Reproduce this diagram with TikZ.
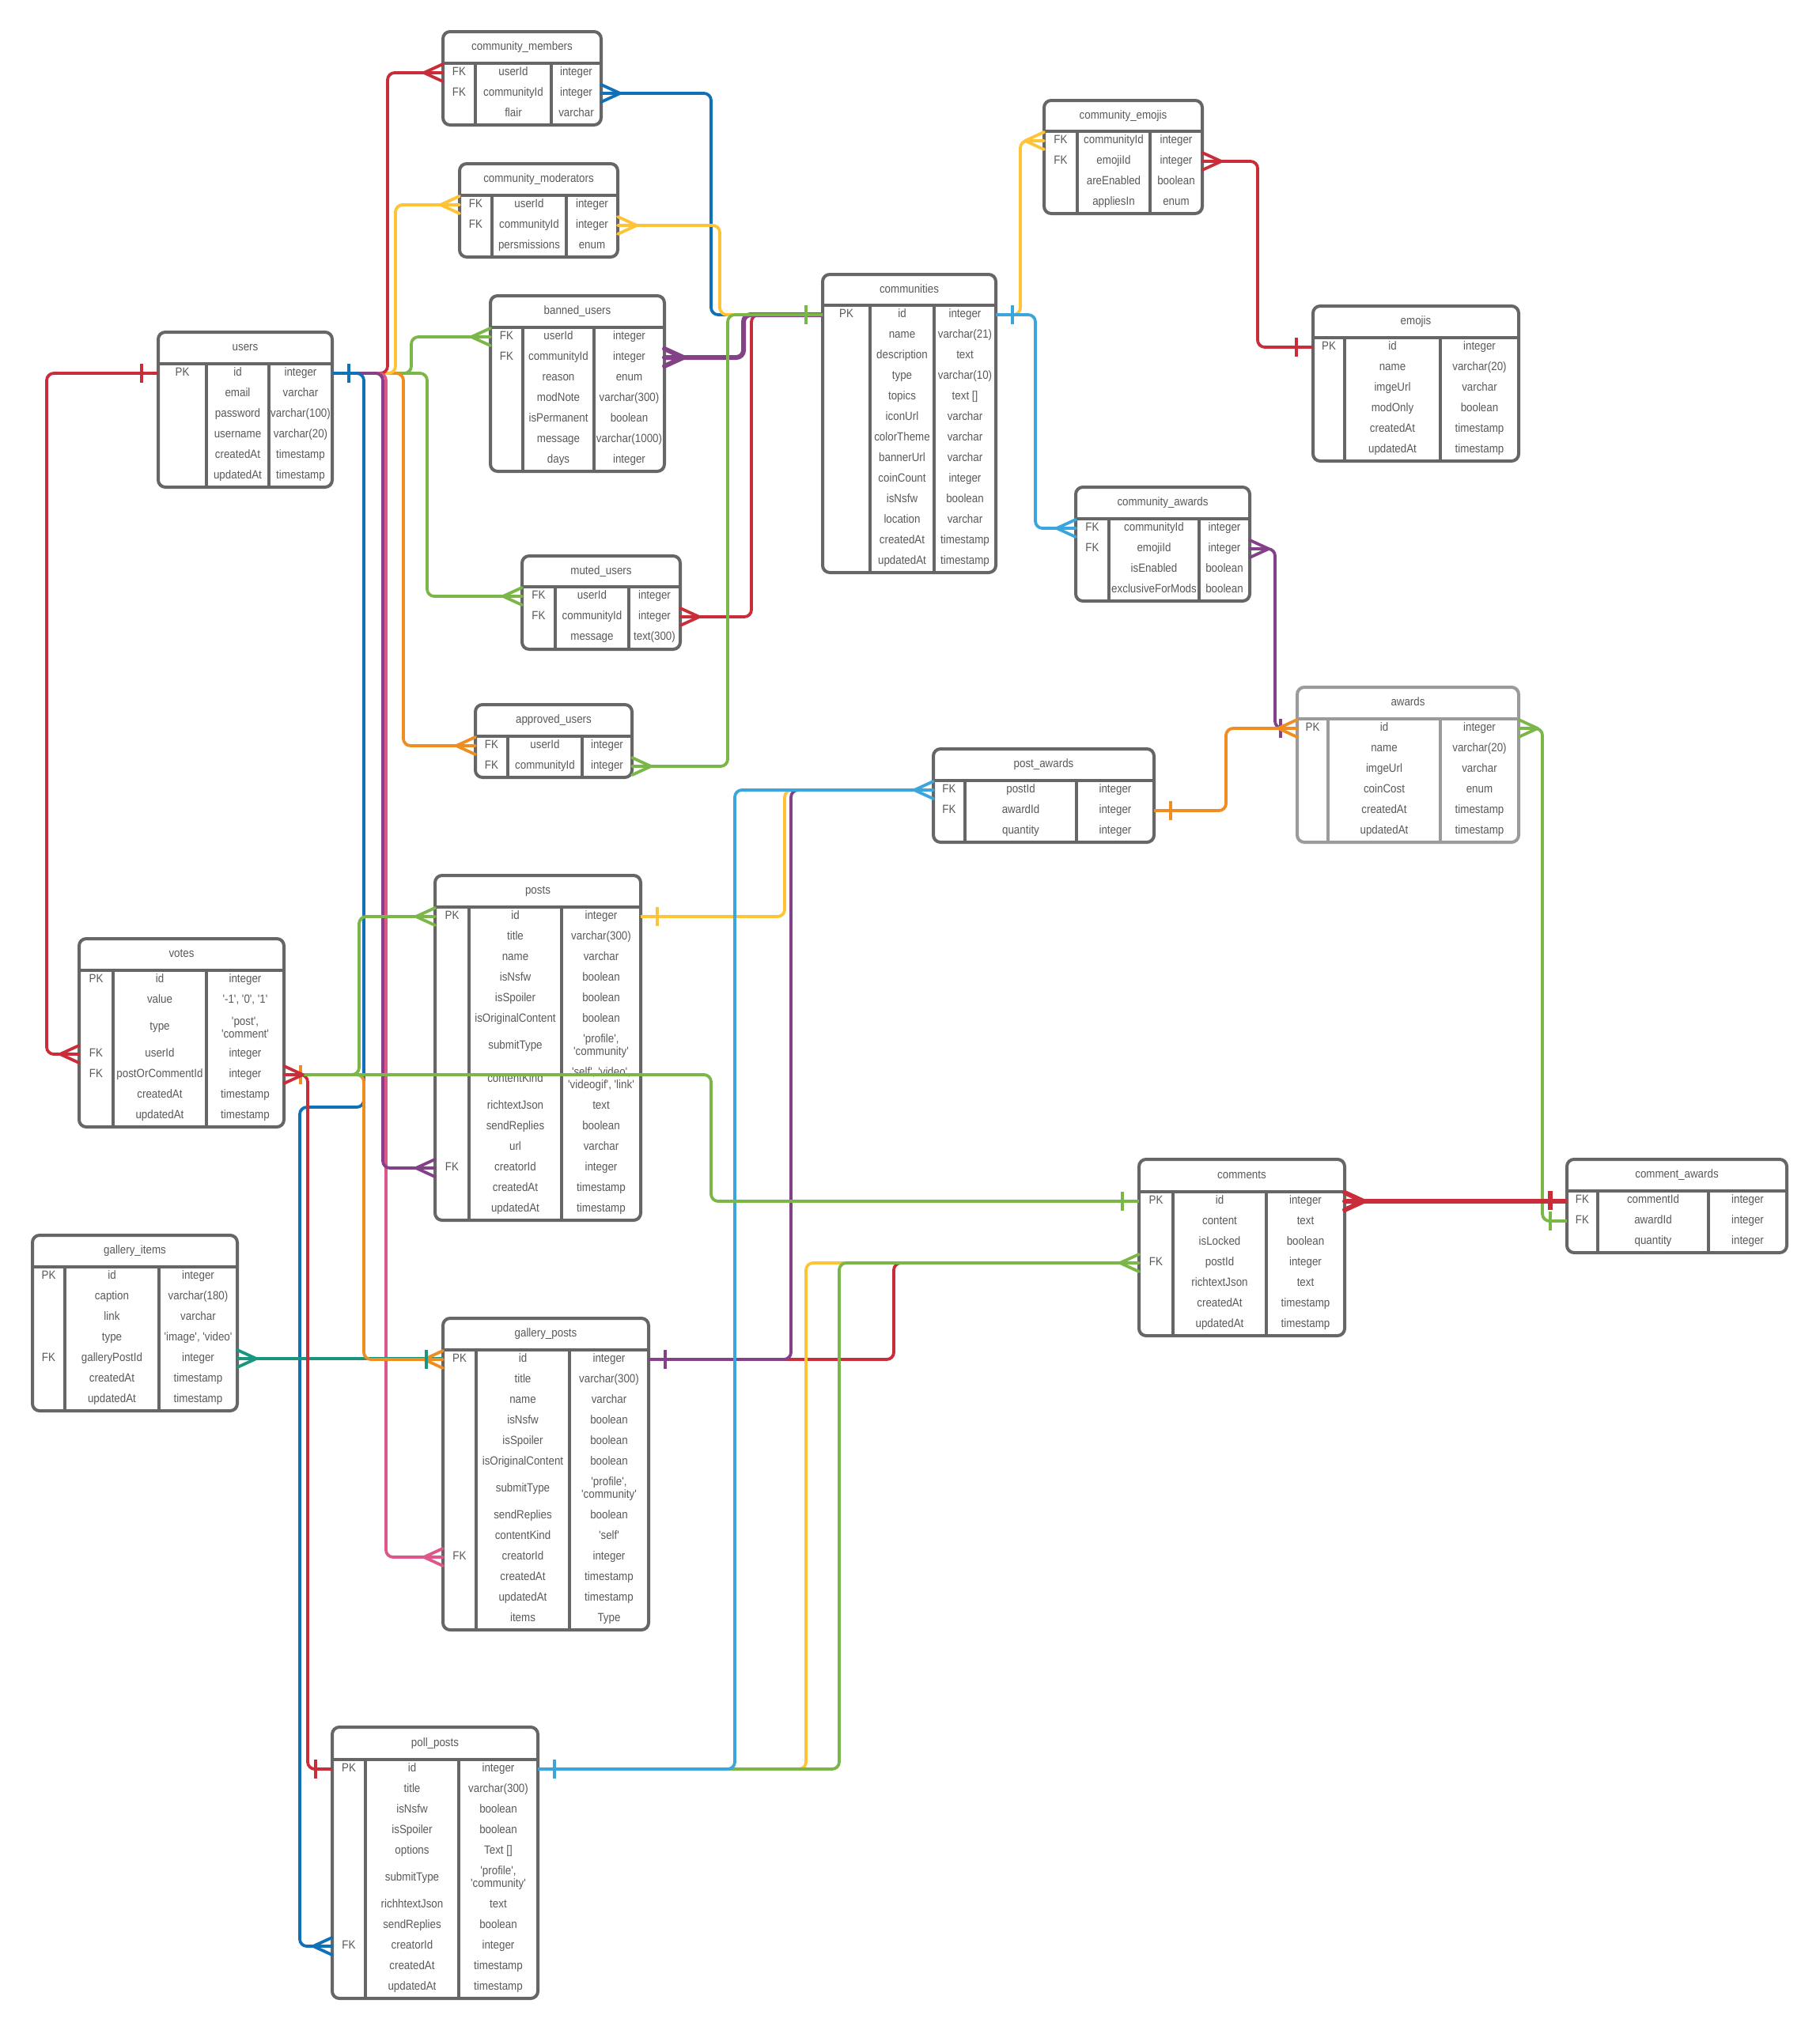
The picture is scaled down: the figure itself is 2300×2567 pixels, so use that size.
\documentclass[tikz,border=0pt]{standalone}
\usepackage{fontspec}
\setmainfont{Liberation Sans}[FakeStretch=0.89,Ligatures=TeXOff]
\definecolor{cred}{RGB}{201,45,57}
\definecolor{cblue}{RGB}{16,113,184}
\definecolor{clblue}{RGB}{58,166,221}
\definecolor{cyellow}{RGB}{255,195,56}
\definecolor{cgreen}{RGB}{122,182,72}
\definecolor{cpurple}{RGB}{131,65,135}
\definecolor{corange}{RGB}{239,141,34}
\definecolor{cpink}{RGB}{224,86,139}
\definecolor{cteal}{RGB}{25,150,125}
\definecolor{tbgray}{RGB}{102,102,102}
\definecolor{tblight}{RGB}{155,155,155}
\definecolor{txtgray}{RGB}{89,89,89}
\newcommand{\ercol}{tbgray}
\newcommand{\erbox}[9]{%
  \gdef\erN{#1}\gdef\erL{#2}\gdef\erR{#3}\gdef\erA{#7}\gdef\erB{#8}%
  \draw[tbBorder] (#2,#4) rectangle (#3,#6);
  \draw[tbHead] (#2,#5) -- (#3,#5);
  \draw[tbCol] (#7,#5) -- (#7,#6);
  \draw[tbCol] (#8,#5) -- (#8,#6);
  \node[ttl] (#1) at ({(#2+#3)/2},{(#4+#5)/2}) {#9};
}
\newcommand{\errow}[5]{%
  \node[cell] (\erN-#1-k) at ({(\erL+\erA)/2},#2) {#3};
  \node[cell] (\erN-#1-f) at ({(\erA+\erB)/2},#2) {#4};
  \node[cell] (\erN-#1-t) at ({(\erB+\erR)/2},#2) {#5};
  \coordinate (\erN-#1-l) at (\erL,#2);
  \coordinate (\erN-#1-r) at (\erR,#2);
}
\newcommand{\errowm}[5]{%
  \node[cell] (\erN-#1-k) at ({(\erL+\erA)/2},#2) {#3};
  \node[cell] (\erN-#1-f) at ({(\erA+\erB)/2},#2) {#4};
  \node[cellm] (\erN-#1-t) at ({(\erB+\erR)/2},#2) {#5};
  \coordinate (\erN-#1-l) at (\erL,#2);
  \coordinate (\erN-#1-r) at (\erR,#2);
}
\tikzset{
  tbBorder/.style={draw=\ercol, line width=4pt, rounded corners=9pt},
  tbHead/.style={draw=\ercol, line width=4pt},
  tbCol/.style={draw=\ercol, line width=3.5pt},
  ttl/.style={font=\fontsize{15}{16}\selectfont, text=txtgray, inner sep=0pt, text height=10.5pt, text depth=3pt},
  cell/.style={font=\fontsize{15}{16}\selectfont, text=txtgray, inner sep=0pt, text height=10.5pt, text depth=3pt},
  cellm/.style={font=\fontsize{15}{16}\selectfont, text=txtgray, inner sep=0pt, align=center},
  conn/.style={line width=3.8pt, rounded corners=9pt},
  thickconn/.style={line width=6pt},
  mk/.style={line width=3.8pt},
  mkthick/.style={line width=6pt},
  crowL/.pic={\draw[line cap=round] (-24,0) -- (0,-11) (-24,0) -- (0,0) (-24,0) -- (0,11);},
  crowR/.pic={\draw[line cap=round] (24,0) -- (0,-11) (24,0) -- (0,0) (24,0) -- (0,11);},
  barL/.pic={\draw (-21,-12) -- (-21,12);},
  barR/.pic={\draw (21,-12) -- (21,12);}
}
\begin{document}
\begin{tikzpicture}[x=1pt,y=-1pt]
\fill[white] (0,0) rectangle (2300,2567);
\useasboundingbox (0,0) rectangle (2300,2567);

% users
\erbox{users}{200}{420}{420}{460}{616}{261}{340}{users}
\errow{id}{472}{PK}{id}{integer}
\errow{email}{498}{}{email}{varchar}
\errow{password}{524}{}{password}{varchar(100)}
\errow{username}{550}{}{username}{varchar(20)}
\errow{createdAt}{576}{}{createdAt}{timestamp}
\errow{updatedAt}{602}{}{updatedAt}{timestamp}

% community_members
\erbox{cmem}{560}{760}{40}{80}{158}{601}{697}{community\_members}
\errow{userId}{92}{FK}{userId}{integer}
\errow{communityId}{118}{FK}{communityId}{integer}
\errow{flair}{144}{}{flair}{varchar}

% community_moderators
\erbox{cmod}{581}{781}{207}{247}{325}{622}{716}{community\_moderators}
\errow{userId}{259}{FK}{userId}{integer}
\errow{communityId}{285}{FK}{communityId}{integer}
\errow{perm}{311}{}{persmissions}{enum}

% banned_users
\erbox{banned}{620}{840}{374}{414}{596}{661}{751}{banned\_users}
\errow{userId}{426}{FK}{userId}{integer}
\errow{communityId}{452}{FK}{communityId}{integer}
\errow{reason}{478}{}{reason}{enum}
\errow{modNote}{504}{}{modNote}{varchar(300)}
\errow{isPermanent}{530}{}{isPermanent}{boolean}
\errow{message}{556}{}{message}{varchar(1000)}
\errow{days}{582}{}{days}{integer}

% communities
\erbox{comm}{1040}{1259}{347}{386}{724}{1100}{1181}{communities}
\errow{id}{398}{PK}{id}{integer}
\errow{name}{424}{}{name}{varchar(21)}
\errow{description}{450}{}{description}{text}
\errow{type}{476}{}{type}{varchar(10)}
\errow{topics}{502}{}{topics}{text []}
\errow{iconUrl}{528}{}{iconUrl}{varchar}
\errow{colorTheme}{554}{}{colorTheme}{varchar}
\errow{bannerUrl}{580}{}{bannerUrl}{varchar}
\errow{coinCount}{606}{}{coinCount}{integer}
\errow{isNsfw}{632}{}{isNsfw}{boolean}
\errow{location}{658}{}{location}{varchar}
\errow{createdAt}{684}{}{createdAt}{timestamp}
\errow{updatedAt}{710}{}{updatedAt}{timestamp}

% community_emojis
\erbox{cemo}{1320}{1520}{127}{166}{270}{1362}{1454}{community\_emojis}
\errow{communityId}{178}{FK}{communityId}{integer}
\errow{emojiId}{204}{FK}{emojiId}{integer}
\errow{areEnabled}{230}{}{areEnabled}{boolean}
\errow{appliesIn}{256}{}{appliesIn}{enum}

% emojis
\erbox{emojis}{1660}{1920}{387}{427}{583}{1700}{1821}{emojis}
\errow{id}{439}{PK}{id}{integer}
\errow{name}{465}{}{name}{varchar(20)}
\errow{imgeUrl}{491}{}{imgeUrl}{varchar}
\errow{modOnly}{517}{}{modOnly}{boolean}
\errow{createdAt}{543}{}{createdAt}{timestamp}
\errow{updatedAt}{569}{}{updatedAt}{timestamp}

% community_awards
\erbox{caw}{1360}{1580}{616}{656}{760}{1402}{1516}{community\_awards}
\errow{communityId}{668}{FK}{communityId}{integer}
\errow{emojiId}{694}{FK}{emojiId}{integer}
\errow{isEnabled}{720}{}{isEnabled}{boolean}
\errow{exclusiveForMods}{746}{}{exclusiveForMods}{boolean}

% muted_users
\erbox{muted}{660}{860}{703}{742}{821}{702}{795}{muted\_users}
\errow{userId}{754}{FK}{userId}{integer}
\errow{communityId}{780}{FK}{communityId}{integer}
\errow{message}{806}{}{message}{text(300)}

% approved_users
\erbox{approved}{601}{799}{891}{931}{983}{642}{736}{approved\_users}
\errow{userId}{943}{FK}{userId}{integer}
\errow{communityId}{969}{FK}{communityId}{integer}

% post_awards
\erbox{paw}{1180}{1459}{947}{987}{1065}{1220}{1361}{post\_awards}
\errow{postId}{999}{FK}{postId}{integer}
\errow{awardId}{1025}{FK}{awardId}{integer}
\errow{quantity}{1051}{}{quantity}{integer}

% awards
\renewcommand{\ercol}{tblight}
\erbox{awards}{1640}{1920}{869}{909}{1065}{1679}{1821}{awards}
\errow{id}{921}{PK}{id}{integer}
\errow{name}{947}{}{name}{varchar(20)}
\errow{imgeUrl}{973}{}{imgeUrl}{varchar}
\errow{coinCost}{999}{}{coinCost}{enum}
\errow{createdAt}{1025}{}{createdAt}{timestamp}
\errow{updatedAt}{1051}{}{updatedAt}{timestamp}
\renewcommand{\ercol}{tbgray}

% posts
\erbox{posts}{550}{810}{1107}{1147}{1543}{593}{710}{posts}
\errow{id}{1159}{PK}{id}{integer}
\errow{title}{1185}{}{title}{varchar(300)}
\errow{name}{1211}{}{name}{varchar}
\errow{isNsfw}{1237}{}{isNsfw}{boolean}
\errow{isSpoiler}{1263}{}{isSpoiler}{boolean}
\errow{isOC}{1289}{}{isOriginalContent}{boolean}
\errowm{submitType}{1323}{}{submitType}{'profile',\\'community'}
\errowm{contentKind}{1365}{}{contentKind}{'self', 'video',\\'videogif', 'link'}
\errow{richtextJson}{1399}{}{richtextJson}{text}
\errow{sendReplies}{1425}{}{sendReplies}{boolean}
\errow{url}{1451}{}{url}{varchar}
\errow{creatorId}{1477}{FK}{creatorId}{integer}
\errow{createdAt}{1503}{}{createdAt}{timestamp}
\errow{updatedAt}{1529}{}{updatedAt}{timestamp}

% votes
\erbox{votes}{100}{359}{1187}{1227}{1425}{143}{261}{votes}
\errow{id}{1239}{PK}{id}{integer}
\errow{value}{1265}{}{value}{'-1', '0', '1'}
\errowm{type}{1299}{}{type}{'post',\\'comment'}
\errow{userId}{1333}{FK}{userId}{integer}
\errow{poc}{1359}{FK}{postOrCommentId}{integer}
\errow{createdAt}{1385}{}{createdAt}{timestamp}
\errow{updatedAt}{1411}{}{updatedAt}{timestamp}

% gallery_items
\erbox{gitems}{41}{300}{1562}{1602}{1784}{82}{201}{gallery\_items}
\errow{id}{1614}{PK}{id}{integer}
\errow{caption}{1640}{}{caption}{varchar(180)}
\errow{link}{1666}{}{link}{varchar}
\errow{type}{1692}{}{type}{'image', 'video'}
\errow{galleryPostId}{1718}{FK}{galleryPostId}{integer}
\errow{createdAt}{1744}{}{createdAt}{timestamp}
\errow{updatedAt}{1770}{}{updatedAt}{timestamp}

% gallery_posts
\erbox{gposts}{560}{820}{1667}{1707}{2061}{602}{720}{gallery\_posts}
\errow{id}{1719}{PK}{id}{integer}
\errow{title}{1745}{}{title}{varchar(300)}
\errow{name}{1771}{}{name}{varchar}
\errow{isNsfw}{1797}{}{isNsfw}{boolean}
\errow{isSpoiler}{1823}{}{isSpoiler}{boolean}
\errow{isOC}{1849}{}{isOriginalContent}{boolean}
\errowm{submitType}{1883}{}{submitType}{'profile',\\'community'}
\errow{sendReplies}{1917}{}{sendReplies}{boolean}
\errow{contentKind}{1943}{}{contentKind}{'self'}
\errow{creatorId}{1969}{FK}{creatorId}{integer}
\errow{createdAt}{1995}{}{createdAt}{timestamp}
\errow{updatedAt}{2021}{}{updatedAt}{timestamp}
\errow{items}{2047}{}{items}{Type}

% comments
\erbox{comments}{1440}{1700}{1466}{1507}{1689}{1483}{1601}{comments}
\errow{id}{1519}{PK}{id}{integer}
\errow{content}{1545}{}{content}{text}
\errow{isLocked}{1571}{}{isLocked}{boolean}
\errow{postId}{1597}{FK}{postId}{integer}
\errow{richtextJson}{1623}{}{richtextJson}{text}
\errow{createdAt}{1649}{}{createdAt}{timestamp}
\errow{updatedAt}{1675}{}{updatedAt}{timestamp}

% comment_awards
\erbox{cawd}{1981}{2259}{1466}{1506}{1584}{2020}{2160}{comment\_awards}
\errow{commentId}{1518}{FK}{commentId}{integer}
\errow{awardId}{1544}{FK}{awardId}{integer}
\errow{quantity}{1570}{}{quantity}{integer}

% poll_posts
\erbox{poll}{420}{680}{2184}{2225}{2527}{462}{580}{poll\_posts}
\errow{id}{2237}{PK}{id}{integer}
\errow{title}{2263}{}{title}{varchar(300)}
\errow{isNsfw}{2289}{}{isNsfw}{boolean}
\errow{isSpoiler}{2315}{}{isSpoiler}{boolean}
\errow{options}{2341}{}{options}{Text []}
\errowm{submitType}{2375}{}{submitType}{'profile',\\'community'}
\errow{richhtextJson}{2409}{}{richhtextJson}{text}
\errow{sendReplies}{2435}{}{sendReplies}{boolean}
\errow{creatorId}{2461}{FK}{creatorId}{integer}
\errow{createdAt}{2487}{}{createdAt}{timestamp}
\errow{updatedAt}{2513}{}{updatedAt}{timestamp}

% ---------- connectors ----------
\draw[conn, cred] (users-id-l) -- ++(-141,0) |- (votes-userId-l);
\draw[conn, cgreen] (users-id-r) -- ++(120,0) |- (muted-userId-l);
\draw[conn, cgreen] (users-id-r) -- ++(100,0) |- (banned-userId-l);
\draw[conn, corange] (users-id-r) -- ++(90,0) |- (approved-userId-l);
\draw[conn, cyellow] (users-id-r) -- ++(80,0) |- (cmod-userId-l);
\draw[conn, cred] (users-id-r) -- ++(70,0) |- (cmem-userId-l);
\draw[conn, cpink] (users-id-r) -- ++(68,0) |- (gposts-creatorId-l);
\draw[conn, cpurple] (users-id-r) -- ++(64,0) |- (posts-creatorId-l);
\draw[conn, cblue] (users-id-r) -- ++(40,0) -- ++(0,928) -- ++(-81,0) |- (poll-creatorId-l);

\draw[conn, cblue] (cmem-communityId-r) -- ++(139,0) |- (comm-id-l);
\draw[conn, cyellow] (cmod-communityId-r) -- ++(129,0) |- (comm-id-l);
\draw[conn, cred] (muted-communityId-r) -- ++(90,0) |- (comm-id-l);
\draw[conn, thickconn, cpurple] (banned-communityId-r) -- ++(100,0) |- (comm-id-l);
\draw[conn, cgreen] (approved-communityId-r) -- ++(121,0) |- (comm-id-l);

\draw[conn, cyellow] (comm-id-r) -- ++(31,0) |- (cemo-communityId-l);
\draw[conn, clblue] (comm-id-r) -- ++(50,0) |- (caw-communityId-l);
\draw[conn, cred] (cemo-emojiId-r) -- ++(70,0) |- (emojis-id-l);
\draw[conn, cpurple] (caw-emojiId-r) -- ++(32,0) |- (awards-id-l);
\draw[conn, corange] (paw-awardId-r) -- ++(91,0) |- (awards-id-l);
\draw[conn, cgreen] (awards-id-r) -- ++(30,0) |- (cawd-awardId-l);
\draw[conn, thickconn, cred] (comments-id-r) -- (comments-id-r -| cawd-commentId-l);

\draw[conn, cyellow] (posts-id-r) -- ++(182,0) |- (paw-postId-l);
\draw[conn, cred] (gposts-id-r) -- ++(310,0) |- (comments-postId-l);
\draw[conn, cpurple] (gposts-id-r) -- ++(180,0) |- (paw-postId-l);
\draw[conn, cyellow] (poll-id-r) -- ++(339,0) |- (comments-postId-l);
\draw[conn, cgreen] (poll-id-r) -- ++(381,0) |- (comments-postId-l);
\draw[conn, clblue] (poll-id-r) -- ++(249,0) |- (paw-postId-l);

\draw[conn, cteal] (gitems-galleryPostId-r) -- (gitems-galleryPostId-r -| gposts-id-l);
\draw[conn, corange] (votes-poc-r) -- ++(101,0) |- (gposts-id-l);
\draw[conn, cred] (votes-poc-r) -- ++(30,0) |- (poll-id-l);
\draw[conn, cgreen] (votes-poc-r) -- ++(540,0) |- (comments-id-l);
\draw[conn, cgreen] (posts-id-l) -- ++(-96,0) |- (votes-poc-r);

% ---------- markers ----------
\pic[mk, cred] at (users-id-l) {barL};
\pic[mk, cred] at (votes-userId-l) {crowL};
\pic[mk, cred] at (cmem-userId-l) {crowL};
\pic[mk, cyellow] at (cmod-userId-l) {crowL};
\pic[mk, cgreen] at (banned-userId-l) {crowL};
\pic[mk, cgreen] at (muted-userId-l) {crowL};
\pic[mk, corange] at (approved-userId-l) {crowL};
\pic[mk, cpurple] at (posts-creatorId-l) {crowL};
\pic[mk, cpink] at (gposts-creatorId-l) {crowL};
\pic[mk, cblue] at (poll-creatorId-l) {crowL};
\pic[mk, cblue] at (users-id-r) {barR};
\pic[mk, cblue] at (cmem-communityId-r) {crowR};
\pic[mk, cyellow] at (cmod-communityId-r) {crowR};
\pic[mkthick, cpurple] at (banned-communityId-r) {crowR};
\pic[mk, cred] at (muted-communityId-r) {crowR};
\pic[mk, cgreen] at (approved-communityId-r) {crowR};
\pic[mk, cgreen] at (comm-id-l) {barL};
\pic[mk, cyellow] at (cemo-communityId-l) {crowL};
\pic[mk, clblue] at (comm-id-r) {barR};
\pic[mk, clblue] at (caw-communityId-l) {crowL};
\pic[mk, cred] at (cemo-emojiId-r) {crowR};
\pic[mk, cred] at (emojis-id-l) {barL};
\pic[mk, cpurple] at (caw-emojiId-r) {crowR};
\pic[mk, cpurple] at (awards-id-l) {barL};
\pic[mk, corange] at (paw-awardId-r) {barR};
\pic[mk, corange] at (awards-id-l) {crowL};
\pic[mk, cgreen] at (awards-id-r) {crowR};
\pic[mk, cgreen] at (cawd-awardId-l) {barL};
\pic[mkthick, cred] at (comments-id-r) {crowR};
\pic[mkthick, cred] at (cawd-commentId-l) {barL};
\pic[mk, cyellow] at (posts-id-r) {barR};
\pic[mk, clblue] at (paw-postId-l) {crowL};
\pic[mk, cpurple] at (gposts-id-r) {barR};
\pic[mk, clblue] at (poll-id-r) {barR};
\pic[mk, cgreen] at (comments-postId-l) {crowL};
\pic[mk, cteal] at (gitems-galleryPostId-r) {crowR};
\pic[mk, corange] at (gposts-id-l) {crowL};
\pic[mk, cteal] at (gposts-id-l) {barL};
\pic[mk, corange] at (votes-poc-r) {barR};
\pic[mk, cred] at (votes-poc-r) {crowR};
\pic[mk, cred] at (poll-id-l) {barL};
\pic[mk, cgreen] at (comments-id-l) {barL};
\pic[mk, cgreen] at (posts-id-l) {crowL};
\end{tikzpicture}
\end{document}
